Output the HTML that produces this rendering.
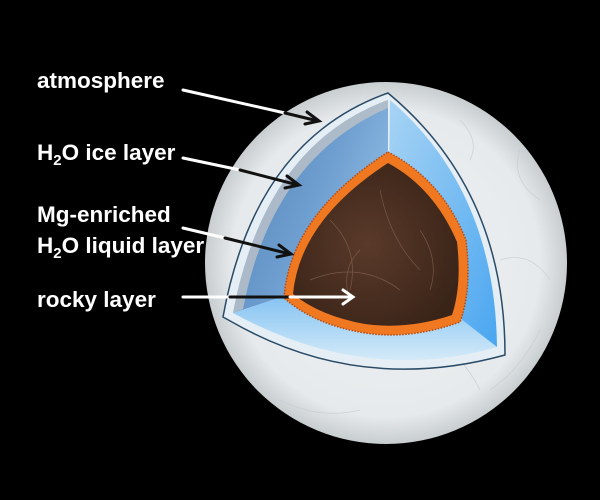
<!DOCTYPE html>
<html><head><style>
html,body{margin:0;padding:0;background:#000;width:600px;height:500px;overflow:hidden}
svg{display:block}
text{font-family:"Liberation Sans",sans-serif;font-weight:bold;fill:#fff}
</style></head><body>
<svg width="600" height="500" viewBox="0 0 600 500">
<defs>
<radialGradient id="sph" cx="386" cy="263" r="181" gradientUnits="userSpaceOnUse">
<stop offset="0" stop-color="#f0f2f3"/><stop offset="0.85" stop-color="#e6eaec"/><stop offset="1" stop-color="#c8cdd0"/>
</radialGradient>
<linearGradient id="lf" x1="0" y1="0" x2="1" y2="0.6">
<stop offset="0" stop-color="#4f80b4"/><stop offset="0.6" stop-color="#6f9fd0"/><stop offset="1" stop-color="#94c0e8"/>
</linearGradient>
<linearGradient id="rf" x1="0" y1="0" x2="1" y2="1">
<stop offset="0" stop-color="#a8d4f4"/><stop offset="1" stop-color="#4aa6f0"/>
</linearGradient>
<linearGradient id="bf" x1="0" y1="0" x2="0" y2="1">
<stop offset="0" stop-color="#5aaef0"/><stop offset="1" stop-color="#d4eaf8"/>
</linearGradient>
<radialGradient id="core" cx="0.45" cy="0.5" r="0.6">
<stop offset="0" stop-color="#5a3a2a"/><stop offset="1" stop-color="#3a2418"/>
</radialGradient>
</defs>
<circle cx="386" cy="263" r="181" fill="url(#sph)"/>
<g stroke="#c6ccd0" stroke-width="0.8" fill="none" opacity="0.8">
<path d="M420 330 q40 20 60 60"/><path d="M500 260 q30 -10 50 20"/><path d="M520 150 q-10 30 20 50"/><path d="M280 400 q40 20 80 10"/><path d="M540 330 q-20 40 -50 60"/><path d="M460 120 q20 20 10 40"/>
</g>
<path d="M388 93 Q255 140 223 317 L232 322 Q360 395 505 355 Q505 190 388 93 Z" fill="#e4eef4" stroke="#2a4a66" stroke-width="1.5"/>
<path d="M388 100 Q265 145 233 313 L388 262 Z" fill="url(#lf)"/>
<path d="M388 100 Q265 145 233 313 L243 309 Q272 158 388 108 Z" fill="#b8c0c8" opacity="0.85"/>
<path d="M390 100 Q495 190 497 347 L388 265 Z" fill="url(#rf)"/>
<path d="M233 313 L388 262 L497 347 Q365 385 233 313 Z" fill="url(#bf)"/>
<path d="M388 152 Q442 180 466 240 Q472 290 460 322 Q410 340 365 333 Q315 325 284 298 Q290 215 388 152 Z" fill="#f07820" stroke="#b84a10" stroke-width="1.5" stroke-dasharray="1.5 1.5"/>
<path d="M388 163 Q434 188 457 242 Q462 285 452 315 Q408 330 365 324 Q320 316 293 294 Q300 220 388 163 Z" fill="url(#core)"/>
<g stroke="#8a6a5a" stroke-width="0.7" fill="none" opacity="0.7">
<path d="M330 220 q30 30 20 70"/><path d="M380 190 q10 50 40 80"/><path d="M310 280 q50 -20 90 10"/><path d="M420 230 q20 30 10 60"/><path d="M360 250 q-20 20 -10 50"/>
</g>
<text x="37" y="88" font-size="22.5">atmosphere</text>
<text x="37" y="160" font-size="22.5">H<tspan font-size="15" dy="5">2</tspan><tspan dy="-5">O ice layer</tspan></text>
<text x="37" y="222" font-size="22.5">Mg-enriched</text>
<text x="37" y="253" font-size="22.5">H<tspan font-size="15" dy="5">2</tspan><tspan dy="-5">O liquid layer</tspan></text>
<text x="37" y="307" font-size="22.5">rocky layer</text>
<g stroke-width="3" fill="none" stroke-linecap="round">
<line x1="183" y1="90" x2="285" y2="113" stroke="#fff"/><line x1="285" y1="113" x2="318" y2="121" stroke="#111"/>
<polyline points="307,112 319,121 305,124" stroke="#111"/>
<line x1="183" y1="158" x2="240" y2="170" stroke="#fff"/><line x1="240" y1="170" x2="298" y2="185" stroke="#111"/>
<polyline points="287,176 299,185 285,188" stroke="#111"/>
<line x1="183" y1="228" x2="225" y2="238" stroke="#fff"/><line x1="225" y1="238" x2="290" y2="254" stroke="#111"/>
<polyline points="279,245 291,254 277,257" stroke="#111"/>
<line x1="183" y1="297" x2="230" y2="297" stroke="#fff"/><line x1="230" y1="297" x2="290" y2="297" stroke="#111"/>
<line x1="290" y1="297" x2="352" y2="297" stroke="#fff"/>
<polyline points="343,290 353,297 343,304" stroke="#fff"/>
</g>
</svg>
</body></html>
